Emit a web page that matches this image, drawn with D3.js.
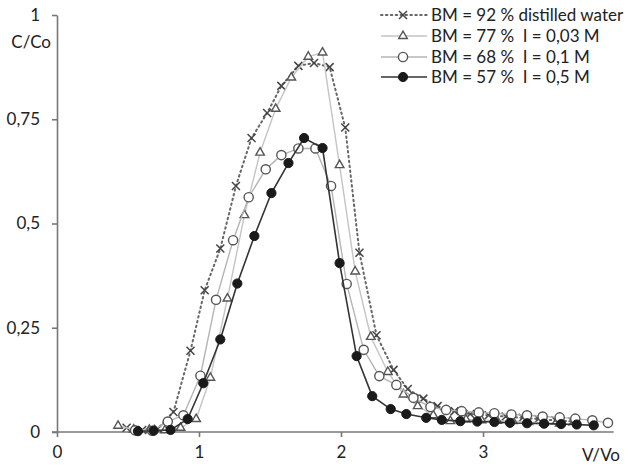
<!DOCTYPE html>
<html>
<head>
<meta charset="utf-8">
<script src="https://cdn.jsdelivr.net/npm/d3@7"></script>
<style>
  body { margin: 0; background: #fff; }
  text { font-family: Lato, "Open Sans", sans-serif; fill: #222; }
</style>
</head>
<body>
<div id="canvas"></div>
<script>
// data (V/Vo, C/Co)
var vWater = [0.49,0.60,0.71,0.82,0.94,1.04,1.15,1.26,1.37,1.48,1.58,1.70,1.81,1.92,2.03,2.13,2.25,2.37,2.47,2.58,2.68,2.80,2.91,3.04,3.16,3.28,3.39,3.51,3.63];
var cWater = [0.010,0.005,0.008,0.048,0.195,0.34,0.44,0.59,0.705,0.765,0.83,0.878,0.885,0.875,0.73,0.43,0.232,0.149,0.103,0.08,0.062,0.05,0.043,0.040,0.037,0.034,0.031,0.028,0.025];

var v003 = [0.43,0.54,0.65,0.76,0.87,0.98,1.08,1.20,1.32,1.43,1.54,1.65,1.77,1.87,1.99,2.10,2.21,2.33,2.44,2.54,2.65,2.77,2.88,2.99,3.10,3.21,3.32,3.43,3.54];
var c003 = [0.015,0.006,0.005,0.004,0.01,0.031,0.13,0.32,0.52,0.67,0.775,0.85,0.90,0.91,0.64,0.385,0.228,0.144,0.09,0.062,0.04,0.026,0.03,0.028,0.027,0.026,0.024,0.022,0.02];

var v01 = [0.55,0.67,0.78,0.89,1.01,1.12,1.24,1.35,1.47,1.58,1.70,1.82,1.93,2.04,2.16,2.27,2.39,2.51,2.63,2.74,2.85,2.97,3.08,3.20,3.31,3.42,3.54,3.65,3.77,3.88];
var c01 = [0.004,0.003,0.025,0.04,0.135,0.317,0.46,0.563,0.63,0.664,0.68,0.68,0.59,0.355,0.197,0.134,0.113,0.082,0.06,0.053,0.05,0.047,0.045,0.042,0.04,0.037,0.035,0.032,0.028,0.022];

var v05 = [0.57,0.68,0.80,0.92,1.03,1.15,1.27,1.39,1.51,1.63,1.74,1.87,1.99,2.11,2.22,2.35,2.46,2.60,2.71,2.84,2.96,3.08,3.19,3.31,3.43,3.55,3.66,3.78];
var c05 = [0.002,0.003,0.005,0.031,0.117,0.222,0.356,0.47,0.573,0.645,0.705,0.681,0.405,0.182,0.086,0.055,0.043,0.034,0.029,0.026,0.025,0.024,0.022,0.021,0.02,0.019,0.018,0.016];

var xTicks = [0, 1, 2, 3];
var xTickLabels = ["0", "1", "2", "3"];
var yTicks = [0, 0.25, 0.5, 0.75, 1];
var yTickLabels = ["0", "0,25", "0,5", "0,75", "1"];
var legendLabels = ["BM = 92 % distilled water", "BM = 77 %  I = 0,03 M", "BM = 68 %  I = 0,1 M", "BM = 57 %  I = 0,5 M"];

var w = 635, h = 466;
var svg = d3.select("#canvas").append("svg").attr("width", w).attr("height", h);

var x = d3.scaleLinear().domain([0, 4]).range([57, 625]);
var y = d3.scaleLinear().domain([0, 1]).range([432, 15]);

// axes
var xAxis = d3.axisBottom(x).tickValues(xTicks).tickSize(5).tickSizeOuter(0).tickPadding(9)
    .tickFormat(function(d, i) { return xTickLabels[i]; });
var gx = svg.append("g").attr("transform", "translate(0," + y(0) + ")").call(xAxis);
gx.select(".domain").attr("d", "M" + (x(0) - 5) + ",0H" + x(3.92));

var yAxis = d3.axisLeft(y).tickValues(yTicks).tickSize(5).tickSizeOuter(0).tickPadding(12)
    .tickFormat(function(d, i) { return yTickLabels[i]; });
var gy = svg.append("g").attr("transform", "translate(" + x(0) + ",0)").call(yAxis);

svg.selectAll(".domain, .tick line").attr("stroke", "#777").attr("stroke-width", 1.6);
svg.selectAll(".tick text").style("font-family", "Lato, sans-serif").style("font-size", "17px").attr("fill", "#222");

svg.append("text").attr("x", 51).attr("y", 48).attr("text-anchor", "end")
    .style("font-size", "17px").text("C/Co");
svg.append("text").attr("x", 620).attr("y", 461).attr("text-anchor", "end")
    .style("font-size", "17px").text("V/Vo");

function pts(vs, cs) {
  return vs.map(function(v, i) { return [v, cs[i]]; });
}

var line = d3.line().x(function(d) { return x(d[0]); }).y(function(d) { return y(d[1]); });

var series = [
  { data: pts(vWater, cWater), stroke: "#666", width: 2, dash: "1.5,3.4", mark: "cross" },
  { data: pts(v003, c003), stroke: "#c4c4c4", width: 1.4, dash: null, mark: "tri" },
  { data: pts(v01, c01), stroke: "#b4b4b4", width: 1.4, dash: null, mark: "ring" },
  { data: pts(v05, c05), stroke: "#333", width: 1.6, dash: null, mark: "dot" }
];

function drawMark(g, kind, px, py) {
  if (kind == "cross") {
    g.append("path").attr("d", "M" + (px-4) + "," + (py-4) + "L" + (px+4) + "," + (py+4) + "M" + (px-4) + "," + (py+4) + "L" + (px+4) + "," + (py-4))
      .attr("stroke", "#444").attr("stroke-width", 1.5).attr("fill", "none");
  } else if (kind == "tri") {
    g.append("path").attr("d", d3.symbol(d3.symbolTriangle, 32)())
      .attr("transform", "translate(" + px + "," + py + ")")
      .attr("fill", "#fff").attr("stroke", "#555").attr("stroke-width", 1.4);
  } else if (kind == "ring") {
    g.append("circle").attr("cx", px).attr("cy", py).attr("r", 4.6)
      .attr("fill", "#fff").attr("stroke", "#555").attr("stroke-width", 1.4);
  } else {
    g.append("circle").attr("cx", px).attr("cy", py).attr("r", 4.6)
      .attr("fill", "#1a1a1a").attr("stroke", "#1a1a1a");
  }
}

series.forEach(function(s) {
  var g = svg.append("g");
  g.append("path").datum(s.data).attr("d", line)
    .attr("fill", "none").attr("stroke", s.stroke).attr("stroke-width", s.width)
    .attr("stroke-dasharray", s.dash).attr("stroke-linecap", s.dash ? "round" : "butt");
  s.data.forEach(function(d) { drawMark(g, s.mark, x(d[0]), y(d[1])); });
});

// legend
var legendY = [15, 36, 57, 77];
series.forEach(function(s, i) {
  var g = svg.append("g");
  g.append("line").attr("x1", 381).attr("x2", 427).attr("y1", legendY[i]).attr("y2", legendY[i])
    .attr("stroke", s.stroke).attr("stroke-width", s.width)
    .attr("stroke-dasharray", s.dash).attr("stroke-linecap", s.dash ? "round" : "butt");
  drawMark(g, s.mark, 403, legendY[i]);
  g.append("text").attr("x", 431).attr("y", legendY[i]).attr("dy", "0.35em")
    .style("font-size", "17px").style("white-space", "pre").text(legendLabels[i]);
});
</script>
</body>
</html>
